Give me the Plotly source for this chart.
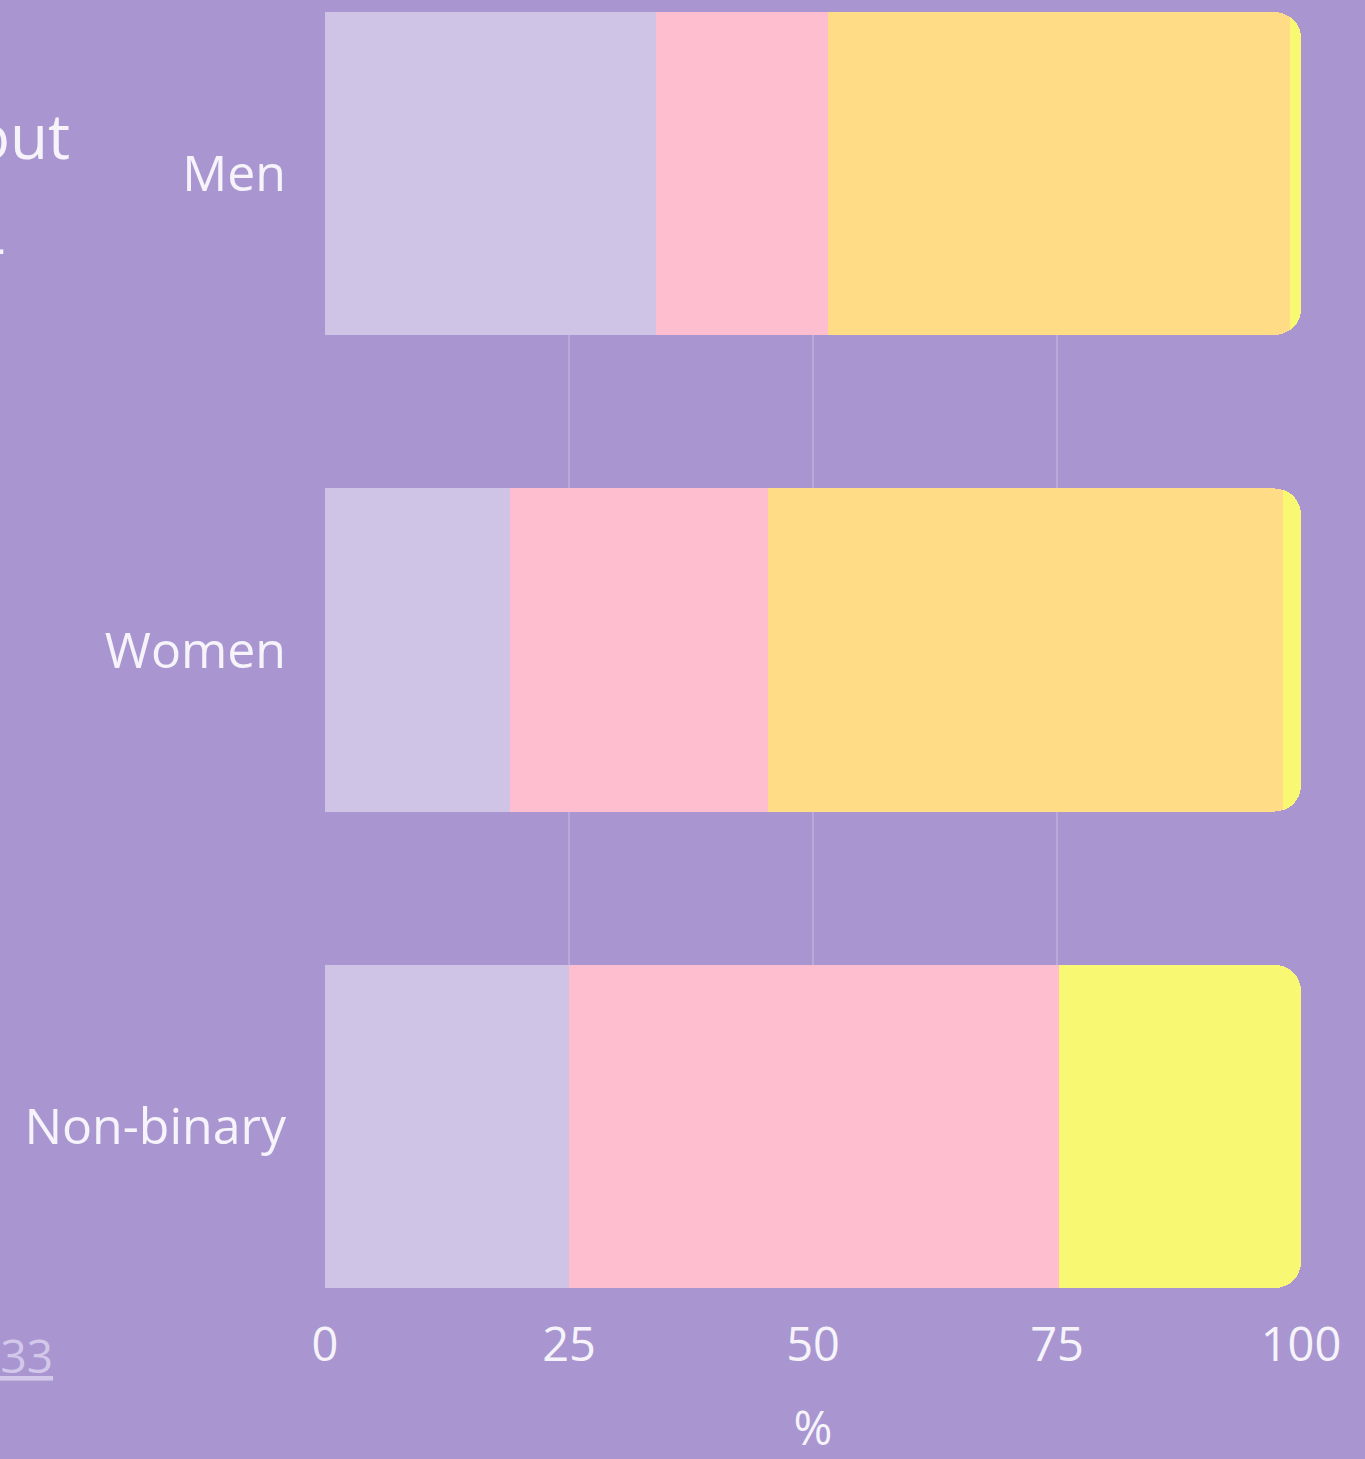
import plotly.graph_objects as go

categories = ["Men", "Women", "Non-binary"]
series_names = ["Group A", "Group B", "Group C", "Group D"]
values_a = [33.9, 19.0, 25.0]
values_b = [17.6, 26.4, 50.2]
values_c = [47.4, 52.8, 0.0]
values_d = [1.1, 1.8, 24.8]
x_ticks = [0, 25, 50, 75, 100]
colors = ["#cfc3e6", "#ffbdd0", "#ffdc85", "#f8f872"]

BG = "#a996d0"
TXT = "#f6f3fb"
FONT = "Open Sans"

fig = go.Figure()
for name, vals, col in zip(series_names, [values_a, values_b, values_c, values_d], colors):
    fig.add_trace(go.Bar(
        y=categories, x=vals, name=name, orientation="h",
        marker=dict(color=col, line=dict(width=0)),
        hoverinfo="x+y+name",
    ))

fig.update_layout(
    barmode="stack",
    bargap=0.322,
    barcornerradius=26,
    showlegend=False,
    width=1365, height=1459,
    paper_bgcolor=BG, plot_bgcolor=BG,
    margin=dict(l=325, r=64, t=12, b=171, autoexpand=False),
    font=dict(family=FONT, color=TXT, size=46),
    xaxis=dict(
        range=[0, 100], tickvals=x_ticks, showgrid=True,
        gridcolor="rgba(255,255,255,0.18)", gridwidth=1.5,
        zeroline=False, showline=False,
        tickfont=dict(size=47, color=TXT),
        ticklabelstandoff=25,
        title=dict(text="%", font=dict(size=47, color=TXT), standoff=40),
    ),
    yaxis=dict(
        range=[2.339, -0.339], showgrid=False, zeroline=False, showline=False,
        tickfont=dict(size=50, color=TXT),
        ticklabelstandoff=38,
    ),
    annotations=[
        dict(text="Feelings about", xref="paper", yref="paper",
             x=(72 - 325) / 976, y=1 - (135 - 12) / 1276, xanchor="right", yanchor="middle",
             showarrow=False, font=dict(size=62, color=TXT, family=FONT)),
        dict(text="their money -", xref="paper", yref="paper",
             x=(8 - 325) / 976, y=1 - (245 - 12) / 1276, xanchor="right", yanchor="middle",
             showarrow=False, font=dict(size=62, color=TXT, family=FONT)),
        dict(text="<u>Source: survey, n=1,233</u>", xref="paper", yref="paper",
             x=(55 - 325) / 976, y=-(1355 - 1288) / 1276, xanchor="right", yanchor="middle",
             showarrow=False, font=dict(size=46, color="#d3c7ea", family=FONT)),
    ],
)

fig.write_html("out.html", config={"displayModeBar": False},
               post_script="document.body.style.margin='0px';")
